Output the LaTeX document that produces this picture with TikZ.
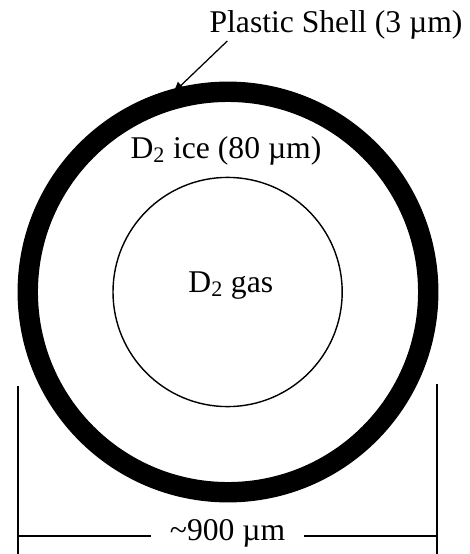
\documentclass[tikz,border=0pt]{standalone}
\usepackage{fontspec}
\setmainfont{Liberation Serif}
\usetikzlibrary{arrows.meta,positioning,calc}

\begin{document}
\begin{tikzpicture}[txt/.style={font=\fontsize{22.5}{27}\selectfont, inner sep=0pt}]
    \useasboundingbox (-5.7,-6.55) rectangle (6.05,7.3);

    % Shell and ice/gas boundary
    \draw[line width=0.51cm] (0,0) circle (5.006);
    \draw[line width=1pt] (-0.01,0) circle (2.865);

    % Labels
    \node[txt, anchor=base] (ice) at (-0.05,3.35) {D\textsubscript{2} ice (80 µm)};
    \node[txt, anchor=base] (gas) at (0.07,0) {D\textsubscript{2} gas};
    \node[txt, anchor=base] (shell) at (2.7,6.475) {Plastic Shell (3 µm)};

    % Pointer to the shell
    \coordinate (tip) at (-1.4,4.95);
    \draw[-{Latex[length=9pt,width=7pt]}, line width=0.9pt] ($(shell.base west)+(0.45,-0.2)$) -- (tip);

    % Diameter
    \coordinate (dimL) at (-5.25,-6.1);
    \coordinate (dimR) at (5.225,-6.1);
    \node[txt, anchor=base, inner xsep=0.46cm] (dim) at (-0.01,-6.2) {\textasciitilde900 µm};
    \draw[line width=0.8pt] (-5.25,-2.35) -- (-5.25,-6.55);
    \draw[line width=0.8pt] (5.225,-2.3) -- (5.225,-6.55);
    \draw[line width=0.8pt] (dimL) -- (dimL -| dim.west);
    \draw[line width=0.8pt] (dim.east |- dimR) -- (dimR);
\end{tikzpicture}
\end{document}
